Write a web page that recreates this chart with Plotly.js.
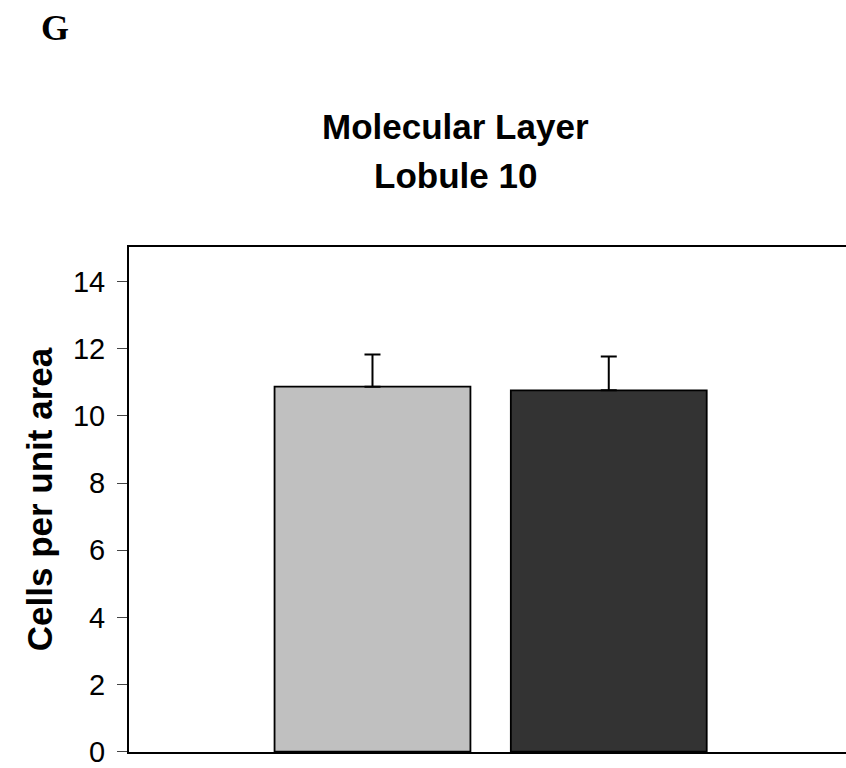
<!DOCTYPE html>
<html>
<head>
<meta charset="utf-8">
<script src="https://cdn.plot.ly/plotly-3.0.1.min.js"></script>
<style>
  html, body { margin: 0; padding: 0; background: #ffffff; }
  #chart { width: 846px; height: 768px; }
</style>
</head>
<body>
<div id="chart"></div>
<script>
// Cell density in the molecular layer of lobule 10, two groups
const groups = ["Group A", "Group B"];
const cellsPerArea = [10.87, 10.76];
const semErrors = [0.96, 1.01];
const barColors = ["#c0c0c0", "#333333"];
const yTickValues = [0, 2, 4, 6, 8, 10, 12, 14];
const titleLines = ["Molecular Layer", "Lobule 10"];

// plot area geometry in pixels, used to place the free-standing texts
const W = 846, H = 768;
const M = { l: 129, r: 0, t: 247, b: 16 };
const plotH = H - M.t - M.b;
const plotW = W - M.l - M.r;
const pyToPaper = (py) => 1 + (M.t - py) / plotH;
const pxToPaper = (px) => (px - M.l) / plotW;

const trace = {
  type: "bar",
  x: groups,
  y: cellsPerArea,
  width: 0.829,
  marker: {
    color: barColors,
    line: { color: "#000000", width: 1.8 }
  },
  error_y: {
    type: "data",
    array: semErrors,
    symmetric: false,
    arrayminus: [0, 0],
    visible: true,
    color: "#000000",
    thickness: 2,
    width: 8
  },
  hoverinfo: "skip"
};

const sans = "Liberation Sans, Arial, sans-serif";

const layout = {
  width: W,
  height: H,
  margin: M,
  paper_bgcolor: "#ffffff",
  plot_bgcolor: "#ffffff",
  showlegend: false,
  font: { family: sans, color: "#000000" },
  xaxis: {
    type: "category",
    range: [-1.0305, 2.004],
    showticklabels: false,
    ticks: "",
    showgrid: false,
    zeroline: false,
    showline: true,
    linecolor: "#000000",
    linewidth: 2,
    mirror: true
  },
  yaxis: {
    range: [-0.01, 15.03],
    tickvals: yTickValues,
    ticktext: yTickValues.map(String),
    ticks: "outside",
    ticklen: 10,
    tickwidth: 1,
    tickcolor: "#444444",
    ticklabelstandoff: 6,
    ticklabeloverflow: "allow",
    tickfont: { family: sans, size: 29, color: "#000000" },
    showgrid: false,
    zeroline: false,
    showline: true,
    linecolor: "#000000",
    linewidth: 2,
    mirror: false,
    title: {
      text: "<b>Cells per unit area</b>",
      font: { family: sans, size: 35, color: "#000000" },
      standoff: 10
    }
  },
  annotations: [
    {
      text: "<b>" + titleLines[0] + "</b>",
      xref: "paper", yref: "paper",
      x: pxToPaper(455), y: pyToPaper(126.5),
      xanchor: "center", yanchor: "middle",
      showarrow: false,
      font: { family: sans, size: 35, color: "#000000" }
    },
    {
      text: "<b>" + titleLines[1] + "</b>",
      xref: "paper", yref: "paper",
      x: pxToPaper(455), y: pyToPaper(176),
      xanchor: "center", yanchor: "middle",
      showarrow: false,
      font: { family: sans, size: 35, color: "#000000" }
    },
    {
      text: "<b>G</b>",
      xref: "paper", yref: "paper",
      x: pxToPaper(54.5), y: pyToPaper(27.5),
      xanchor: "center", yanchor: "middle",
      showarrow: false,
      font: { family: "Liberation Serif, Times New Roman, serif", size: 36, color: "#000000" }
    }
  ]
};

Plotly.newPlot("chart", [trace], layout, { staticPlot: true, displayModeBar: false });
</script>
</body>
</html>
